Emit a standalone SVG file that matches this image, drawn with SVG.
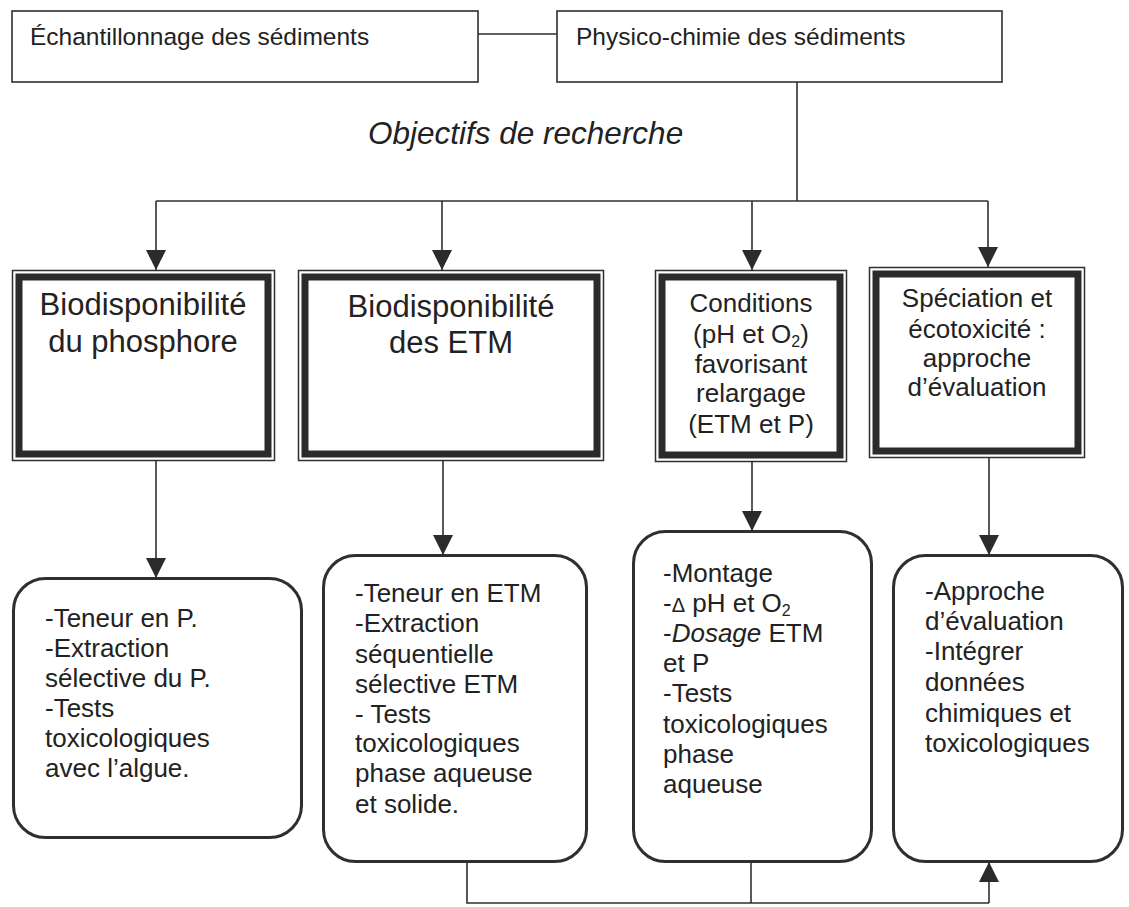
<svg xmlns="http://www.w3.org/2000/svg" width="1129" height="907" viewBox="0 0 1129 907">
  <style>
    .bg { fill: #ffffff; }
    .box { fill: #ffffff; stroke: #2f2f2f; stroke-width: 1.6; }
    .thin { fill: none; stroke: #2f2f2f; stroke-width: 1.5; }
    .thick { fill: #ffffff; stroke: #2b2b2b; stroke-width: 7; }
    .round { fill: #ffffff; stroke: #2f2f2f; stroke-width: 3; }
    .link { fill: none; stroke: #2f2f2f; stroke-width: 1.6; }
    text { font-family: "Liberation Sans", Arial, sans-serif; fill: #222222; }
    .t24 { font-size: 24.5px; }
    .t31 { font-size: 31px; text-anchor: middle; }
    .t26c { font-size: 26px; text-anchor: middle; }
    .t26 { font-size: 26px; }
    .ital { font-style: italic; }
    .sub { font-size: 16px; }
  </style>
  <defs>
    <marker id="arrow" viewBox="0 0 20 20" refX="20" refY="10" markerWidth="20" markerHeight="20" markerUnits="userSpaceOnUse" orient="auto">
      <path d="M0,0 L20,10 L0,20 Z" fill="#2b2b2b"/>
    </marker>
  </defs>

  <rect class="bg" x="0" y="0" width="1129" height="907"/>

  <!-- connectors -->
  <g id="connectors">
    <line class="link" x1="478" y1="34" x2="557" y2="34"/>
    <line class="link" x1="797" y1="82" x2="797" y2="201"/>
    <line class="link" x1="156" y1="201" x2="988" y2="201"/>
    <line class="link" x1="156" y1="201" x2="156" y2="270" marker-end="url(#arrow)"/>
    <line class="link" x1="442" y1="201" x2="442" y2="270" marker-end="url(#arrow)"/>
    <line class="link" x1="752" y1="201" x2="752" y2="270" marker-end="url(#arrow)"/>
    <line class="link" x1="988" y1="201" x2="988" y2="267" marker-end="url(#arrow)"/>
    <line class="link" x1="156" y1="460" x2="156" y2="578" marker-end="url(#arrow)"/>
    <line class="link" x1="443" y1="461" x2="443" y2="555" marker-end="url(#arrow)"/>
    <line class="link" x1="752" y1="462" x2="752" y2="531" marker-end="url(#arrow)"/>
    <line class="link" x1="989" y1="457" x2="989" y2="555" marker-end="url(#arrow)"/>
    <polyline class="link" points="467,862 467,903 989,903"/>
    <line class="link" x1="751" y1="862" x2="751" y2="903"/>
    <line class="link" x1="989" y1="903" x2="989" y2="862" marker-end="url(#arrow)"/>
  </g>

  <!-- top row -->
  <g id="echantillonnage">
    <rect class="box" x="12" y="11" width="466" height="71"/>
    <text class="t24" x="30" y="45">Échantillonnage des sédiments</text>
  </g>
  <g id="physico-chimie">
    <rect class="box" x="557" y="11" width="445" height="71"/>
    <text class="t24" x="576" y="45">Physico-chimie des sédiments</text>
  </g>

  <text class="ital" x="368" y="144" font-size="31.5">Objectifs de recherche</text>

  <!-- research objectives (double frame) -->
  <g id="bio-phosphore">
    <rect class="thin" x="12.5" y="270.5" width="262" height="190"/>
    <rect class="thick" x="19" y="277" width="249" height="177"/>
    <text class="t31" x="143" y="315">Biodisponibilité</text>
    <text class="t31" x="143" y="352">du phosphore</text>
  </g>
  <g id="bio-etm">
    <rect class="thin" x="298.5" y="270.5" width="305" height="190"/>
    <rect class="thick" x="305" y="277" width="292" height="177"/>
    <text class="t31" x="451" y="317">Biodisponibilité</text>
    <text class="t31" x="451" y="353">des ETM</text>
  </g>
  <g id="conditions">
    <rect class="thin" x="655.5" y="270.5" width="191" height="191"/>
    <rect class="thick" x="662" y="277" width="178" height="178"/>
    <text class="t26c" x="751" y="312">Conditions</text>
    <text class="t26c" x="751" y="343">(pH et O<tspan class="sub" dy="4">2</tspan><tspan dy="-4">)</tspan></text>
    <text class="t26c" x="751" y="373">favorisant</text>
    <text class="t26c" x="751" y="402">relargage</text>
    <text class="t26c" x="751" y="433">(ETM et P)</text>
  </g>
  <g id="speciation">
    <rect class="thin" x="869.5" y="267.5" width="215" height="190"/>
    <rect class="thick" x="876" y="274" width="202" height="177"/>
    <text class="t26c" x="977" y="307">Spéciation et</text>
    <text class="t26c" x="977" y="338">écotoxicité :</text>
    <text class="t26c" x="977" y="367">approche</text>
    <text class="t26c" x="977" y="396">d’évaluation</text>
  </g>

  <!-- methods (rounded boxes) -->
  <g id="methodes-phosphore">
    <rect class="round" x="13.5" y="578.5" width="288" height="259" rx="32"/>
    <text class="t26" x="45" y="627">-Teneur en P.</text>
    <text class="t26" x="45" y="657">-Extraction</text>
    <text class="t26" x="45" y="687">sélective du P.</text>
    <text class="t26" x="45" y="717">-Tests</text>
    <text class="t26" x="45" y="747">toxicologiques</text>
    <text class="t26" x="45" y="777">avec l’algue.</text>
  </g>
  <g id="methodes-etm">
    <rect class="round" x="323.5" y="555.5" width="263" height="306" rx="32"/>
    <text class="t26" x="355" y="602">-Teneur en ETM</text>
    <text class="t26" x="355" y="632">-Extraction</text>
    <text class="t26" x="355" y="663">séquentielle</text>
    <text class="t26" x="355" y="693">sélective ETM</text>
    <text class="t26" x="355" y="723">- Tests</text>
    <text class="t26" x="355" y="752">toxicologiques</text>
    <text class="t26" x="355" y="782">phase aqueuse</text>
    <text class="t26" x="355" y="813">et solide.</text>
  </g>
  <g id="methodes-conditions">
    <rect class="round" x="633.5" y="531.5" width="238" height="330" rx="32"/>
    <text class="t26" x="663" y="582">-Montage</text>
    <text class="t26" x="663" y="612">-<tspan font-size="20">Δ</tspan> pH et O<tspan class="sub" dy="4">2</tspan></text>
    <text class="t26" x="663" y="642">-<tspan class="ital">Dosage</tspan> ETM</text>
    <text class="t26" x="663" y="672">et P</text>
    <text class="t26" x="663" y="702">-Tests</text>
    <text class="t26" x="663" y="733">toxicologiques</text>
    <text class="t26" x="663" y="763">phase</text>
    <text class="t26" x="663" y="793">aqueuse</text>
  </g>
  <g id="methodes-speciation">
    <rect class="round" x="893.5" y="555.5" width="229" height="306" rx="32"/>
    <text class="t26" x="925" y="600">-Approche</text>
    <text class="t26" x="925" y="630">d’évaluation</text>
    <text class="t26" x="925" y="660">-Intégrer</text>
    <text class="t26" x="925" y="691">données</text>
    <text class="t26" x="925" y="722">chimiques et</text>
    <text class="t26" x="925" y="752">toxicologiques</text>
  </g>
</svg>
